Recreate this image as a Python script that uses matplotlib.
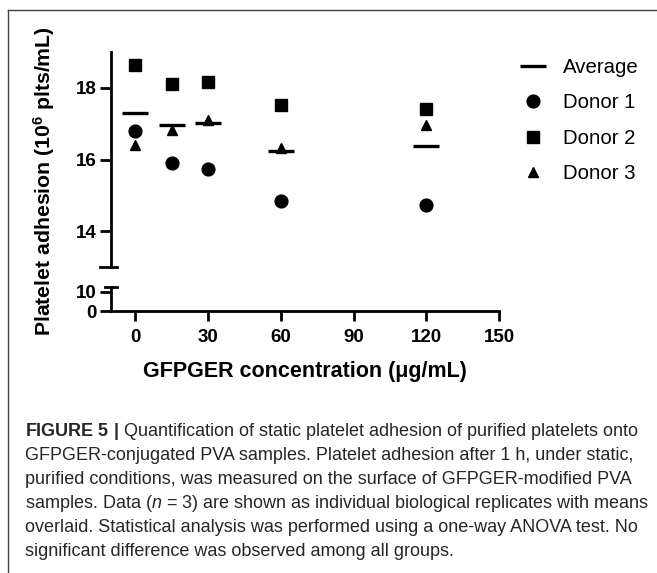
import matplotlib
matplotlib.use("Agg")
import matplotlib.pyplot as plt
from matplotlib.lines import Line2D

plt.rcParams["font.family"] = ["Liberation Sans", "DejaVu Sans"]
plt.rcParams["mathtext.fontset"] = "custom"
plt.rcParams["mathtext.rm"] = "Liberation Sans"
plt.rcParams["mathtext.bf"] = "Liberation Sans:bold"
plt.rcParams["mathtext.it"] = "Liberation Sans:italic"

# data (10^6 plts/mL)
conc = [0, 15, 30, 60, 120]
donor1 = [16.79, 15.89, 15.74, 14.84, 14.72]
donor2 = [18.63, 18.11, 18.17, 17.53, 17.41]
donor3 = [16.40, 16.81, 17.09, 16.31, 16.95]
average = [17.29, 16.95, 17.03, 16.23, 16.37]

x_ticks = [0, 30, 60, 90, 120, 150]
y_ticks_top = [14, 16, 18]
y_ticks_bottom = [0, 10]

caption = [
    r"$\mathbf{FIGURE\ 5\ |}$ Quantification of static platelet adhesion of purified platelets onto",
    "GFPGER-conjugated PVA samples. Platelet adhesion after 1 h, under static,",
    "purified conditions, was measured on the surface of GFPGER-modified PVA",
    r"samples. Data ($\mathit{n}$ = 3) are shown as individual biological replicates with means",
    "overlaid. Statistical analysis was performed using a one-way ANOVA test. No",
    "significant difference was observed among all groups.",
]

W, H = 657, 573
fig = plt.figure(figsize=(W / 100, H / 100), dpi=100)


def box(l, t, r, b):
    return [l / W, 1 - b / H, (r - l) / W, (b - t) / H]


ax = fig.add_axes(box(111, 52, 499, 267))
ax0 = fig.add_axes(box(111, 287, 499, 311))

lw = 2.0
tick_fs = 13.5
for a in (ax, ax0):
    a.set_xlim(-10, 150)
    a.spines["top"].set_visible(False)
    a.spines["right"].set_visible(False)
    a.spines["left"].set_linewidth(lw)
    a.spines["bottom"].set_linewidth(lw)
    a.tick_params(axis="y", direction="out", length=8, width=lw, pad=2, labelsize=tick_fs)
    a.patch.set_alpha(0)

ax.spines["bottom"].set_visible(False)
ax.set_xticks([])
ax.set_ylim(13, 19)
ax.set_yticks(y_ticks_top)

ax0.set_ylim(0, 12.6)
ax0.set_yticks(y_ticks_bottom)
ax0.set_xticks(x_ticks)
ax0.tick_params(axis="x", direction="out", length=7, width=lw, pad=6, labelsize=tick_fs)

for a in (ax, ax0):
    for lab in a.get_xticklabels() + a.get_yticklabels():
        lab.set_fontweight("bold")

ms = dict(color="black", linestyle="none", clip_on=False)
h_avg, = ax.plot(conc, average, marker="_", markersize=19, markeredgewidth=2.4, label="Average", **ms)
h1, = ax.plot(conc, donor1, marker="o", markersize=9.2, label="Donor 1", **ms)
h2, = ax.plot(conc, donor2, marker="s", markersize=8, label="Donor 2", **ms)
h3, = ax.plot(conc, donor3, marker="^", markersize=7.5, label="Donor 3", **ms)

# axis break caps
fig.add_artist(Line2D([100 / W, 117 / W], [1 - 267 / H] * 2, color="black", lw=lw))
fig.add_artist(Line2D([105 / W, 117 / W], [1 - 287 / H] * 2, color="black", lw=lw))

fig.legend(handles=[h_avg, h1, h2, h3], loc="upper left",
           bbox_to_anchor=(517 / W, 1 - 58 / H), frameon=False, fontsize=14.7,
           borderpad=0, borderaxespad=0, labelspacing=0.8, handletextpad=0.67,
           handlelength=1.6, numpoints=1)

fig.text(44 / W, 1 - 181 / H, r"Platelet adhesion (10$^{\mathbf{6}}$ plts/mL)",
         rotation=90, ha="center", va="center", fontsize=15.3, fontweight="bold")
fig.text(305 / W, 1 - 372 / H, "GFPGER concentration (μg/mL)",
         ha="center", va="center", fontsize=15.5, fontweight="bold")

# frame lines of the figure panel
fig.add_artist(Line2D([8 / W, 1], [1 - 10 / H] * 2, color="#404040", lw=1))
fig.add_artist(Line2D([8 / W] * 2, [0, 1 - 10 / H], color="#404040", lw=1))

for i, line in enumerate(caption):
    fig.text(25 / W, 1 - (436 + i * 24) / H, line, fontsize=13, color="#262626",
             ha="left", va="baseline")

fig.savefig("out.png", dpi=100)
